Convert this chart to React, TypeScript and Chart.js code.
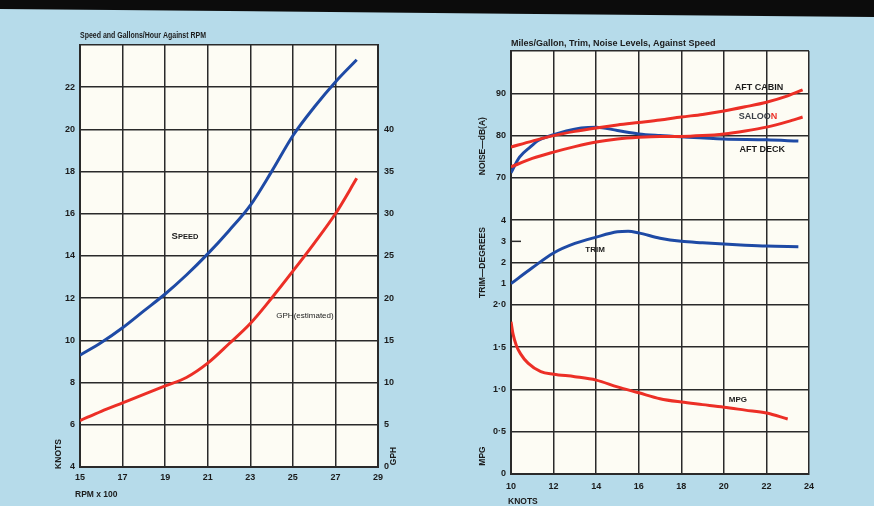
import React, { useEffect, useRef } from 'react';
import { Chart, registerables } from 'chart.js';
Chart.register(...registerables);

// ---------- Left chart data ----------
const rpmX100 = [15, 16, 17, 18, 19, 20, 21, 22, 23, 24, 25, 26, 27, 28];
const speedKnots = [9.3, 9.9, 10.6, 11.4, 12.2, 13.1, 14.1, 15.2, 16.4, 18.0, 19.7, 21.05, 22.25, 23.3];
const gphEstimated = [5.5, 6.6, 7.6, 8.6, 9.6, 10.6, 12.3, 14.6, 17.0, 20.0, 23.2, 26.5, 30.0, 34.2];
const rpmTicks = [15, 17, 19, 21, 23, 25, 27, 29];
const knotsTicks = [4, 6, 8, 10, 12, 14, 16, 18, 20, 22, 24];
const gphTicks = [0, 5, 10, 15, 20, 25, 30, 35, 40, 45, 50];

// ---------- Right chart data ----------
const aftCabinKnots = [10, 11, 12, 13, 14, 15, 16, 17, 18, 19, 20, 21, 22, 23, 23.7];
const aftCabinDb = [77.3, 78.7, 80.0, 81.0, 81.8, 82.5, 83.1, 83.7, 84.4, 85.0, 85.8, 86.8, 87.9, 89.4, 90.8];
const saloonKnots = [10, 11, 12, 13, 14, 15, 16, 17, 18, 19, 20, 21, 22, 23, 23.7];
const saloonDb = [72.6, 74.6, 76.1, 77.4, 78.5, 79.2, 79.6, 79.8, 79.8, 80.0, 80.4, 81.1, 82.0, 83.3, 84.4];
const aftDeckKnots = [10, 10.4, 10.9, 11.3, 12, 12.6, 13.3, 14, 15, 16, 17, 18, 20, 22, 23.5];
const aftDeckDb = [71.2, 74.9, 77.3, 78.9, 80.2, 81.1, 81.8, 82.0, 81.2, 80.4, 80.0, 79.7, 79.2, 79.0, 78.7];
const trimKnots = [10, 11, 12, 13, 14, 15, 15.5, 16, 17, 18, 19, 20, 21, 22, 23.5];
const trimDegrees = [1.0, 1.75, 2.45, 2.9, 3.2, 3.45, 3.48, 3.4, 3.15, 3.0, 2.93, 2.87, 2.82, 2.78, 2.75];
const mpgKnots = [10, 10.1, 10.25, 10.45, 10.8, 11.4, 12, 13, 14, 15, 16, 17, 18, 19, 20, 21, 22, 23];
const mpgValues = [1.8, 1.65, 1.52, 1.42, 1.31, 1.21, 1.18, 1.15, 1.11, 1.03, 0.96, 0.89, 0.85, 0.82, 0.79, 0.755, 0.72, 0.65];
const speedTicks = [10, 12, 14, 16, 18, 20, 22, 24];
// combined vertical scale: 0..4 = MPG 0..2, 4..6 = trim 0..4, 7..10 = noise 70..100
const rightTickValues = [0, 1, 2, 3, 4, 4.5, 5, 5.5, 6, 7, 8, 9, 10];
const rightTickLabels: Record<string, string> = {
  '0': '0', '1': '0·5', '2': '1·0', '3': '1·5', '4': '2·0',
  '4.5': '1', '5': '2', '5.5': '3', '6': '4', '7': '70', '8': '80', '9': '90', '10': '',
};
const noiseToAxis = (db: number) => 7 + (db - 70) / 10;
const trimToAxis = (d: number) => 4 + d / 2;
const mpgToAxis = (m: number) => m * 2;

const BLUE = '#1e4aa5';
const RED = '#ec2f26';
const GRID = '#2a2a2a';
const INK = '#1b1b1b';
const PLOT_BG = '#fdfcf4';
const FONT = '"Liberation Sans", Arial, sans-serif';

function drawText(ctx: CanvasRenderingContext2D, s: string, x: number, y: number, font: string, color: string, align: CanvasTextAlign = 'center', rotate = false, maxW?: number) {
  ctx.save();
  ctx.font = font;
  ctx.fillStyle = color;
  ctx.textAlign = align;
  ctx.textBaseline = 'middle';
  ctx.translate(x, y);
  if (rotate) ctx.rotate(-Math.PI / 2);
  if (maxW) ctx.fillText(s, 0, 0, maxW); else ctx.fillText(s, 0, 0);
  ctx.restore();
}

const bgPlugin = {
  id: 'plotBg',
  beforeDraw(chart: any) {
    const { ctx, chartArea: a } = chart;
    ctx.save();
    ctx.fillStyle = PLOT_BG;
    ctx.fillRect(a.left, a.top, a.right - a.left, a.bottom - a.top);
    ctx.restore();
  },
};

const line = (data: { x: number; y: number }[], color: string, yAxisID = 'y') => ({
  type: 'line' as const,
  data,
  yAxisID,
  borderColor: color,
  borderWidth: 3,
  pointRadius: 0,
  cubicInterpolationMode: 'monotone' as const,
  fill: false,
});

const tickFont = { family: FONT, weight: 'bold' as const, size: 9 };

export default function App() {
  const leftRef = useRef<HTMLCanvasElement>(null);
  const rightRef = useRef<HTMLCanvasElement>(null);

  useEffect(() => {
    const leftText = {
      id: 'leftText',
      afterDraw(chart: any) {
        const { ctx, chartArea: a, scales } = chart;
        const x = scales.x, y = scales.y;
        drawText(ctx, 'Speed and Gallons/Hour Against RPM', a.left, 36, `bold 9px ${FONT}`, INK, 'left', false, 126);
        // SPEED with small caps
        const sx = x.getPixelForValue(19.93), sy = y.getPixelForValue(14.95);
        ctx.save();
        ctx.font = `bold 9.5px ${FONT}`;
        const wS = ctx.measureText('S').width;
        ctx.font = `bold 7.5px ${FONT}`;
        const wP = ctx.measureText('PEED').width;
        ctx.restore();
        const start = sx - (wS + wP) / 2;
        drawText(ctx, 'S', start, sy, `bold 9.5px ${FONT}`, INK, 'left');
        drawText(ctx, 'PEED', start + wS, sy + 0.5, `bold 7.5px ${FONT}`, INK, 'left');
        drawText(ctx, 'GPH(estimated)', x.getPixelForValue(25.57), y.getPixelForValue(11.15), `8px ${FONT}`, INK, 'center', false, 76);
        drawText(ctx, 'KNOTS', a.left - 21, a.bottom - 13, `bold 8.5px ${FONT}`, INK, 'center', true);
        drawText(ctx, 'RPM x 100', a.left - 5, 495, `bold 8.5px ${FONT}`, INK, 'left');
        drawText(ctx, 'GPH', a.right + 16, a.bottom - 11, `bold 8.5px ${FONT}`, INK, 'center', true);
      },
    };

    const left = new Chart(leftRef.current!, {
      type: 'line',
      data: {
        datasets: [
          line(rpmX100.map((r, i) => ({ x: r, y: speedKnots[i] })), BLUE, 'y'),
          line(rpmX100.map((r, i) => ({ x: r, y: gphEstimated[i] })), RED, 'y2'),
        ],
      },
      options: {
        responsive: false,
        animation: false,
        events: [],
        layout: { padding: { top: 45, left: 0, right: 0, bottom: 0 } },
        plugins: { legend: { display: false }, tooltip: { enabled: false }, title: { display: false } },
        scales: {
          x: {
            type: 'linear', min: 15, max: 29,
            afterBuildTicks: (s: any) => { s.ticks = rpmTicks.map((v) => ({ value: v })); },
            afterFit: (s: any) => { s.height = 39; },
            ticks: { font: tickFont, color: INK, padding: 5, autoSkip: false, maxRotation: 0 },
            grid: { color: GRID, lineWidth: 1.5, drawTicks: false },
            border: { color: GRID, width: 2 },
          },
          y: {
            type: 'linear', position: 'left', min: 4, max: 24,
            afterBuildTicks: (s: any) => { s.ticks = knotsTicks.map((v) => ({ value: v })); },
            afterFit: (s: any) => { s.width = 80; },
            ticks: { font: tickFont, color: INK, padding: 5, autoSkip: false, callback: (v: any) => (v === 24 ? '' : String(v)) },
            grid: { color: GRID, lineWidth: 1.5, drawTicks: false },
            border: { color: GRID, width: 2 },
          },
          y2: {
            type: 'linear', position: 'right', min: 0, max: 50,
            afterBuildTicks: (s: any) => { s.ticks = gphTicks.map((v) => ({ value: v })); },
            afterFit: (s: any) => { s.width = 59; },
            ticks: { font: tickFont, color: INK, padding: 6, autoSkip: false, callback: (v: any) => (v > 40 ? '' : String(v)) },
            grid: { display: false, drawTicks: false },
            border: { color: GRID, width: 2 },
          },
        },
      } as any,
      plugins: [bgPlugin, leftText],
    });

    const rightText = {
      id: 'rightText',
      afterDraw(chart: any) {
        const { ctx, chartArea: a, scales } = chart;
        const x = scales.x, y = scales.y;
        drawText(ctx, 'Miles/Gallon, Trim, Noise Levels, Against Speed', a.left, 44, `bold 9px ${FONT}`, INK, 'left', false, 216);
        // short tick at trim 3
        ctx.save();
        ctx.strokeStyle = GRID;
        ctx.lineWidth = 1.5;
        const ty = y.getPixelForValue(trimToAxis(3));
        ctx.beginPath();
        ctx.moveTo(a.left, ty);
        ctx.lineTo(a.left + 10, ty);
        ctx.stroke();
        ctx.restore();
        drawText(ctx, 'NOISE—dB(A)', a.left - 28, y.getPixelForValue(7.75), `bold 8.5px ${FONT}`, INK, 'center', true);
        drawText(ctx, 'TRIM—DEGREES', a.left - 28, y.getPixelForValue(5.0), `bold 8.5px ${FONT}`, INK, 'center', true);
        drawText(ctx, 'MPG', a.left - 28, a.bottom - 18, `bold 8.5px ${FONT}`, INK, 'center', true);
        drawText(ctx, 'KNOTS', a.left - 3, 502, `bold 8.5px ${FONT}`, INK, 'left');
        const lab = 'bold 9px ' + FONT;
        drawText(ctx, 'AFT CABIN', x.getPixelForValue(21.65), y.getPixelForValue(noiseToAxis(91.4)), lab, INK);
        // SALOON with red N
        ctx.save();
        ctx.font = lab;
        const w1 = ctx.measureText('SALOO').width;
        const w2 = ctx.measureText('N').width;
        ctx.restore();
        const cx = x.getPixelForValue(21.6), cy = y.getPixelForValue(noiseToAxis(84.6));
        drawText(ctx, 'SALOO', cx - (w1 + w2) / 2, cy, lab, '#3a3f46', 'left');
        drawText(ctx, 'N', cx - (w1 + w2) / 2 + w1, cy, lab, RED, 'left');
        drawText(ctx, 'AFT DECK', x.getPixelForValue(21.8), y.getPixelForValue(noiseToAxis(76.8)), lab, INK);
        drawText(ctx, 'TRIM', x.getPixelForValue(13.95), y.getPixelForValue(trimToAxis(2.6)), `bold 8px ${FONT}`, INK);
        drawText(ctx, 'MPG', x.getPixelForValue(20.66), y.getPixelForValue(mpgToAxis(0.875)), `bold 8px ${FONT}`, INK);
      },
    };

    const right = new Chart(rightRef.current!, {
      type: 'line',
      data: {
        datasets: [
          line(saloonKnots.map((k, i) => ({ x: k, y: noiseToAxis(saloonDb[i]) })), RED),
          line(aftCabinKnots.map((k, i) => ({ x: k, y: noiseToAxis(aftCabinDb[i]) })), RED),
          line(aftDeckKnots.map((k, i) => ({ x: k, y: noiseToAxis(aftDeckDb[i]) })), BLUE),
          line(trimKnots.map((k, i) => ({ x: k, y: trimToAxis(trimDegrees[i]) })), BLUE),
          line(mpgKnots.map((k, i) => ({ x: k, y: mpgToAxis(mpgValues[i]) })), RED),
        ],
      },
      options: {
        responsive: false,
        animation: false,
        events: [],
        layout: { padding: { top: 51, left: 0, right: 65, bottom: 0 } },
        plugins: { legend: { display: false }, tooltip: { enabled: false }, title: { display: false } },
        scales: {
          x: {
            type: 'linear', min: 10, max: 24,
            afterBuildTicks: (s: any) => { s.ticks = speedTicks.map((v) => ({ value: v })); },
            afterFit: (s: any) => { s.height = 32; },
            ticks: { font: tickFont, color: INK, padding: 7, autoSkip: false, maxRotation: 0 },
            grid: { color: GRID, lineWidth: 1.5, drawTicks: false },
            border: { color: GRID, width: 2 },
          },
          y: {
            type: 'linear', position: 'left', min: 0, max: 10,
            afterBuildTicks: (s: any) => { s.ticks = rightTickValues.map((v) => ({ value: v })); },
            afterFit: (s: any) => { s.width = 74; },
            ticks: { font: tickFont, color: INK, padding: 5, autoSkip: false, callback: (v: any) => rightTickLabels[String(v)] ?? '' },
            grid: {
              color: (c: any) => (c.tick && (c.tick.value === 4.5 || c.tick.value === 5.5) ? 'rgba(0,0,0,0)' : GRID),
              lineWidth: 1.5,
              drawTicks: false,
            },
            border: { color: GRID, width: 2 },
          },
        },
      } as any,
      plugins: [bgPlugin, rightText],
    });

    return () => {
      left.destroy();
      right.destroy();
    };
  }, []);

  return (
    <div style={{ position: 'fixed', left: 0, top: 0, width: 874, height: 506, background: '#b6dbea', overflow: 'hidden' }}>
      <div style={{ position: 'absolute', left: 0, top: 0, width: 874, height: 18, background: '#0c0c0c', clipPath: 'polygon(0 0, 100% 0, 100% 17px, 0 9px)' }} />
      <canvas ref={leftRef} width={437} height={506} style={{ position: 'absolute', left: 0, top: 0, width: 437, height: 506 }} />
      <canvas ref={rightRef} width={437} height={506} style={{ position: 'absolute', left: 437, top: 0, width: 437, height: 506 }} />
    </div>
  );
}
